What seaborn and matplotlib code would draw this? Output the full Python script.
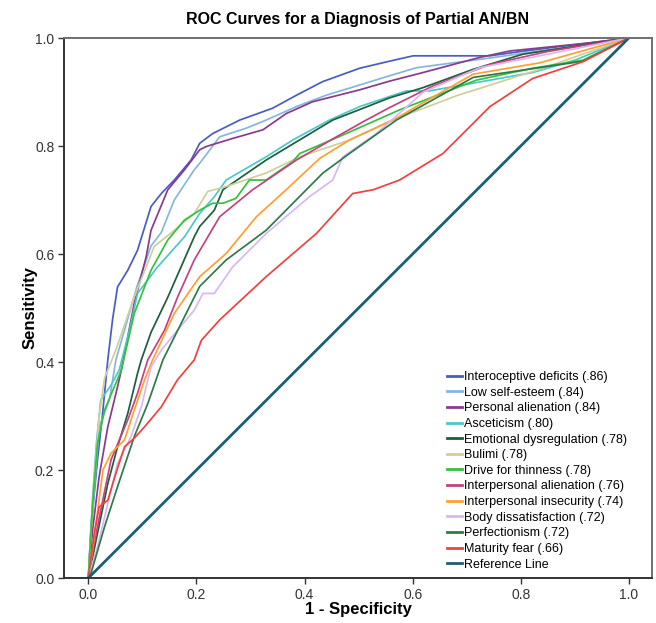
# ROC curves - partial AN/BN
import pandas as pd
import numpy as np
import seaborn as sns
import matplotlib
matplotlib.use('Agg')
import matplotlib.pyplot as plt

# Curvas (1 - especificidad, sensibilidad)
interoceptive_x = [0, 0.005, 0.017, 0.027, 0.036, 0.045, 0.054, 0.073, 0.091, 0.116, 0.135, 0.159, 0.19, 0.206, 0.23, 0.28, 0.341, 0.385, 0.433, 0.502, 0.557, 0.601, 0.743, 0.8, 1]
interoceptive_y = [0, 0.095, 0.219, 0.311, 0.404, 0.48, 0.539, 0.57, 0.607, 0.688, 0.712, 0.737, 0.774, 0.805, 0.823, 0.848, 0.87, 0.894, 0.919, 0.944, 0.957, 0.967, 0.967, 0.975, 1]

selfesteem_x = [0, 0.01, 0.02, 0.039, 0.051, 0.07, 0.09, 0.116, 0.135, 0.159, 0.196, 0.206, 0.243, 0.292, 0.329, 0.385, 0.44, 0.502, 0.557, 0.607, 0.736, 0.915, 1]
selfesteem_y = [0, 0.15, 0.28, 0.33, 0.404, 0.47, 0.54, 0.615, 0.64, 0.70, 0.756, 0.768, 0.817, 0.833, 0.848, 0.873, 0.894, 0.913, 0.93, 0.945, 0.962, 0.987, 1]

personal_x = [0, 0.008, 0.02, 0.036, 0.054, 0.061, 0.085, 0.107, 0.116, 0.147, 0.178, 0.206, 0.218, 0.267, 0.323, 0.366, 0.415, 0.502, 0.557, 0.619, 0.724, 0.78, 0.928, 1]
personal_y = [0, 0.09, 0.188, 0.28, 0.354, 0.385, 0.509, 0.595, 0.644, 0.719, 0.756, 0.793, 0.799, 0.814, 0.83, 0.86, 0.882, 0.904, 0.92, 0.936, 0.964, 0.976, 0.991, 1]

asceticism_x = [0, 0.008, 0.015, 0.023, 0.042, 0.057, 0.076, 0.091, 0.128, 0.178, 0.206, 0.233, 0.255, 0.329, 0.378, 0.446, 0.502, 0.588, 0.631, 0.822, 0.903, 1]
asceticism_y = [0, 0.15, 0.25, 0.33, 0.357, 0.385, 0.459, 0.527, 0.576, 0.632, 0.675, 0.706, 0.737, 0.78, 0.811, 0.848, 0.873, 0.902, 0.902, 0.936, 0.96, 1]

emotional_x = [0, 0.017, 0.036, 0.054, 0.073, 0.091, 0.098, 0.116, 0.147, 0.196, 0.206, 0.233, 0.249, 0.329, 0.452, 0.557, 0.619, 0.712, 0.804, 1]
emotional_y = [0, 0.083, 0.175, 0.243, 0.305, 0.379, 0.404, 0.455, 0.52, 0.632, 0.651, 0.681, 0.719, 0.774, 0.848, 0.889, 0.908, 0.942, 0.97, 1]

bulimi_x = [0, 0.01, 0.02, 0.03, 0.05, 0.085, 0.122, 0.159, 0.196, 0.221, 0.233, 0.255, 0.329, 0.391, 0.483, 0.557, 0.681, 0.835, 1]
bulimi_y = [0, 0.17, 0.3, 0.37, 0.42, 0.521, 0.614, 0.644, 0.675, 0.716, 0.719, 0.725, 0.75, 0.78, 0.811, 0.846, 0.893, 0.942, 1]

thinness_x = [0, 0.008, 0.017, 0.03, 0.061, 0.085, 0.116, 0.147, 0.178, 0.206, 0.23, 0.249, 0.273, 0.298, 0.329, 0.378, 0.391, 0.477, 0.576, 0.718, 0.822, 0.915, 1]
thinness_y = [0, 0.138, 0.249, 0.311, 0.385, 0.49, 0.57, 0.626, 0.663, 0.681, 0.694, 0.694, 0.703, 0.737, 0.737, 0.771, 0.786, 0.823, 0.867, 0.922, 0.944, 0.959, 1]

alienation_x = [0, 0.01, 0.023, 0.042, 0.073, 0.091, 0.11, 0.141, 0.165, 0.196, 0.243, 0.304, 0.385, 0.459, 0.514, 0.557, 0.637, 0.743, 0.85, 1]
alienation_y = [0, 0.06, 0.126, 0.219, 0.293, 0.342, 0.404, 0.459, 0.52, 0.589, 0.669, 0.719, 0.774, 0.817, 0.848, 0.871, 0.911, 0.951, 0.975, 1]

insecurity_x = [0, 0.011, 0.027, 0.042, 0.067, 0.085, 0.104, 0.119, 0.159, 0.206, 0.255, 0.311, 0.366, 0.428, 0.483, 0.564, 0.619, 0.712, 0.835, 1]
insecurity_y = [0, 0.076, 0.2, 0.231, 0.256, 0.311, 0.367, 0.404, 0.49, 0.558, 0.601, 0.669, 0.719, 0.777, 0.811, 0.848, 0.88, 0.933, 0.954, 1]

body_x = [0, 0.017, 0.036, 0.054, 0.079, 0.098, 0.116, 0.135, 0.165, 0.196, 0.212, 0.233, 0.267, 0.329, 0.409, 0.452, 0.471, 0.533, 0.62, 0.724, 0.85, 1]
body_y = [0, 0.058, 0.138, 0.212, 0.262, 0.317, 0.391, 0.422, 0.459, 0.496, 0.527, 0.527, 0.576, 0.638, 0.706, 0.737, 0.78, 0.823, 0.9, 0.945, 0.97, 1]

perfectionism_x = [0, 0.005, 0.03, 0.054, 0.085, 0.11, 0.138, 0.172, 0.206, 0.255, 0.329, 0.434, 0.483, 0.57, 0.712, 0.915, 1]
perfectionism_y = [0, 0.009, 0.095, 0.169, 0.262, 0.323, 0.404, 0.472, 0.54, 0.589, 0.644, 0.75, 0.786, 0.848, 0.927, 0.957, 1]

maturity_x = [0, 0.011, 0.02, 0.036, 0.051, 0.067, 0.085, 0.104, 0.135, 0.165, 0.196, 0.209, 0.243, 0.329, 0.422, 0.489, 0.527, 0.576, 0.656, 0.743, 0.822, 0.915, 1]
maturity_y = [0, 0.083, 0.132, 0.144, 0.194, 0.243, 0.259, 0.28, 0.317, 0.367, 0.404, 0.44, 0.478, 0.558, 0.638, 0.712, 0.719, 0.737, 0.786, 0.873, 0.925, 0.956, 1]

reference_x = [0, 1]
reference_y = [0, 1]

names = ['Interoceptive deficits (.86)', 'Low self-esteem (.84)', 'Personal alienation (.84)',
         'Asceticism (.80)', 'Emotional dysregulation (.78)', 'Bulimi (.78)',
         'Drive for thinness (.78)', 'Interpersonal alienation (.76)',
         'Interpersonal insecurity (.74)', 'Body dissatisfaction (.72)',
         'Perfectionism (.72)', 'Maturity fear (.66)', 'Reference Line']
curves = [(interoceptive_x, interoceptive_y), (selfesteem_x, selfesteem_y), (personal_x, personal_y),
          (asceticism_x, asceticism_y), (emotional_x, emotional_y), (bulimi_x, bulimi_y),
          (thinness_x, thinness_y), (alienation_x, alienation_y), (insecurity_x, insecurity_y),
          (body_x, body_y), (perfectionism_x, perfectionism_y), (maturity_x, maturity_y),
          (reference_x, reference_y)]
colores = ['#4a5cbf', '#86b6e0', '#8a3a8c', '#4cc8c8', '#1d5e3c', '#cfcf9e', '#35c040',
           '#c6427e', '#ffa030', '#d8b8f0', '#2d7a4c', '#f24040', '#1b6072']

frames = []
for n, (cx, cy) in zip(names, curves):
    frames.append(pd.DataFrame({'x': cx, 'y': cy, 'curva': n}))
df = pd.concat(frames, ignore_index=True)

plt.rcParams['font.family'] = ['Liberation Sans', 'DejaVu Sans']

fig = plt.figure(figsize=(6.56, 6.23), dpi=100)
ax = fig.add_axes([0.0976, 0.0722, 0.8964, 0.8668])

sns.lineplot(data=df, x='x', y='y', hue='curva', hue_order=names,
             palette=dict(zip(names, colores)), sort=False, estimator=None,
             linewidth=1.25, ax=ax)

# la línea de referencia va más gruesa
for l in ax.lines:
    if l.get_color() == '#1b6072':
        l.set_linewidth(2.0)

ax.set_xlim(-0.045, 1.043)
ax.set_ylim(0, 1)
ax.set_xticks(np.arange(0, 1.01, 0.2))
ax.set_yticks(np.arange(0, 1.01, 0.2))
ax.set_xticklabels(['0.0', '0.2', '0.4', '0.6', '0.8', '1.0'])
ax.set_yticklabels(['0.0', '0.2', '0.4', '0.6', '0.8', '1.0'])
ax.tick_params(direction='out', length=4, width=1, labelsize=10, colors='#333333', pad=3)

for s in ['left', 'bottom']:
    ax.spines[s].set_color('#333333')
    ax.spines[s].set_linewidth(1.4)
for s in ['top', 'right']:
    ax.spines[s].set_color('#707070')
    ax.spines[s].set_linewidth(1.4)

ax.set_xlabel('1 - Specificity', fontsize=12, fontweight='bold', labelpad=0.5)
ax.set_ylabel('Sensitivity', fontsize=12, fontweight='bold', labelpad=-2)
ax.set_title('ROC Curves for a Diagnosis of Partial AN/BN', fontsize=11.5, fontweight='bold', pad=10)

handles, labels = ax.get_legend_handles_labels()
for h in handles:
    h.set_linewidth(2.0)
ax.legend(handles, labels, loc='lower left', bbox_to_anchor=(0.638, 0.0), frameon=False,
          fontsize=9, handlelength=1.2, handletextpad=0.15, labelspacing=0.29, borderaxespad=0.2)

fig.savefig('out.png', dpi=100)
